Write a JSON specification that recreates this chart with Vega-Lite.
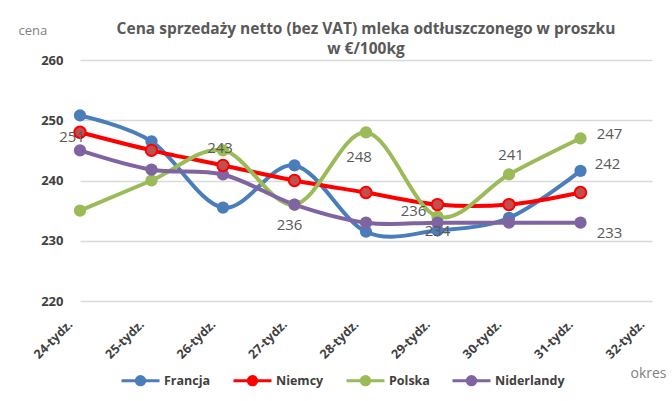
{
  "$schema": "https://vega.github.io/schema/vega-lite/v6.json",
  "width": 572,
  "height": 241,
  "autosize": {"type": "none"},
  "padding": {"left": 80, "top": 60, "right": 20, "bottom": 100},
  "background": "white",
  "config": {
    "font": "Open Sans",
    "view": {"stroke": null},
    "axis": {"labelFont": "Open Sans", "titleFont": "Open Sans"},
    "legend": {"labelFont": "Open Sans"},
    "text": {"font": "Open Sans"}
  },
  "title": {
    "text": ["Cena sprzedaży netto (bez VAT) mleka odtłuszczonego w proszku", "w €/100kg"],
    "font": "Open Sans",
    "fontSize": 15.5,
    "fontWeight": "bold",
    "color": "#595959",
    "anchor": "middle",
    "lineHeight": 20,
    "offset": 8,
    "dy": 41
  },
  "data": {
    "values": [
      {"week": "24-tydz.", "series": "Francja", "value": 250.8, "label": "251"},
      {"week": "25-tydz.", "series": "Francja", "value": 246.5},
      {"week": "26-tydz.", "series": "Francja", "value": 235.5},
      {"week": "27-tydz.", "series": "Francja", "value": 242.5},
      {"week": "28-tydz.", "series": "Francja", "value": 231.5},
      {"week": "29-tydz.", "series": "Francja", "value": 231.7},
      {"week": "30-tydz.", "series": "Francja", "value": 233.8},
      {"week": "31-tydz.", "series": "Francja", "value": 241.6, "label": "242"},
      {"week": "24-tydz.", "series": "Niemcy", "value": 248},
      {"week": "25-tydz.", "series": "Niemcy", "value": 245},
      {"week": "26-tydz.", "series": "Niemcy", "value": 242.5},
      {"week": "27-tydz.", "series": "Niemcy", "value": 240},
      {"week": "28-tydz.", "series": "Niemcy", "value": 238},
      {"week": "29-tydz.", "series": "Niemcy", "value": 236, "label": "236"},
      {"week": "30-tydz.", "series": "Niemcy", "value": 236},
      {"week": "31-tydz.", "series": "Niemcy", "value": 238},
      {"week": "24-tydz.", "series": "Polska", "value": 235},
      {"week": "25-tydz.", "series": "Polska", "value": 240},
      {"week": "26-tydz.", "series": "Polska", "value": 245, "label": "243"},
      {"week": "27-tydz.", "series": "Polska", "value": 236, "label": "236"},
      {"week": "28-tydz.", "series": "Polska", "value": 248, "label": "248"},
      {"week": "29-tydz.", "series": "Polska", "value": 234, "label": "234"},
      {"week": "30-tydz.", "series": "Polska", "value": 241, "label": "241"},
      {"week": "31-tydz.", "series": "Polska", "value": 247, "label": "247"},
      {"week": "24-tydz.", "series": "Niderlandy", "value": 245},
      {"week": "25-tydz.", "series": "Niderlandy", "value": 241.8},
      {"week": "26-tydz.", "series": "Niderlandy", "value": 241},
      {"week": "27-tydz.", "series": "Niderlandy", "value": 236},
      {"week": "28-tydz.", "series": "Niderlandy", "value": 233},
      {"week": "29-tydz.", "series": "Niderlandy", "value": 233},
      {"week": "30-tydz.", "series": "Niderlandy", "value": 233},
      {"week": "31-tydz.", "series": "Niderlandy", "value": 233, "label": "233"}
    ]
  },
  "encoding": {
    "x": {
      "field": "week",
      "type": "ordinal",
      "scale": {
        "type": "point",
        "padding": 0,
        "domain": ["24-tydz.", "25-tydz.", "26-tydz.", "27-tydz.", "28-tydz.", "29-tydz.", "30-tydz.", "31-tydz.", "32-tydz."]
      },
      "axis": {
        "title": "okres",
        "titleX": 550,
        "titleY": 72,
        "titleAlign": "left",
        "titleBaseline": "middle",
        "titleFontSize": 14,
        "titleFontWeight": "normal",
        "titleColor": "#7f7f7f",
        "labelAngle": -45,
        "labelAlign": "right",
        "labelBaseline": "middle",
        "labelFontSize": 12.5,
        "labelFontWeight": "bold",
        "labelColor": "#404040",
        "labelPadding": 21,
        "labelOffset": -10,
        "ticks": false,
        "domain": false,
        "grid": false
      }
    },
    "y": {
      "field": "value",
      "type": "quantitative",
      "scale": {"domain": [220, 260], "nice": false, "zero": false},
      "axis": {
        "values": [220, 230, 240, 250, 260],
        "title": "cena",
        "titleAngle": 0,
        "titleX": -62,
        "titleY": -30,
        "titleAlign": "left",
        "titleBaseline": "middle",
        "titleFontSize": 13,
        "titleFontWeight": "normal",
        "titleColor": "#7f7f7f",
        "labelFontSize": 13,
        "labelFontWeight": "bold",
        "labelColor": "#404040",
        "labelPadding": 17,
        "ticks": false,
        "domain": false,
        "grid": true,
        "gridColor": "#d9d9d9",
        "gridWidth": 1.5
      }
    },
    "color": {
      "field": "series",
      "type": "nominal",
      "scale": {
        "domain": ["Francja", "Niemcy", "Polska", "Niderlandy"],
        "range": ["#4a7ebb", "#ff0000", "#9bbb59", "#8064a2"]
      },
      "legend": {
        "title": null,
        "orient": "none",
        "direction": "horizontal",
        "legendX": 40,
        "legendY": 300,
        "labelFontSize": 12.5,
        "labelFontWeight": "bold",
        "labelColor": "#404040",
        "columnPadding": 16,
        "symbolType": "M-1,0H1M-0.22,0A0.22,0.22,0,1,0,0.22,0A0.22,0.22,0,1,0,-0.22,0Z",
        "symbolSize": 1444,
        "symbolStrokeWidth": 3,
        "labelOffset": 3
      }
    }
  },
  "layer": [
    {
      "mark": {"type": "line", "interpolate": "cardinal", "strokeWidth": 4}
    },
    {
      "mark": {"type": "point", "filled": true, "size": 150, "opacity": 1}
    },
    {
      "transform": [{"filter": "datum.series == 'Niemcy'"}],
      "mark": {"type": "point", "filled": true, "size": 130, "opacity": 1, "fill": "#c0504d", "stroke": "#ff0000", "strokeWidth": 2},
      "encoding": {"color": {"value": "#c0504d"}}
    },
    {
      "transform": [{"filter": "datum.series == 'Francja' && datum.week == '24-tydz.'"}],
      "mark": {"type": "text", "dx": -8, "dy": 22, "fontSize": 15},
      "encoding": {"text": {"field": "label"}, "color": {"value": "#595959"}}
    },
    {
      "transform": [{"filter": "datum.series == 'Polska' && datum.week == '26-tydz.'"}],
      "mark": {"type": "text", "dx": -3, "dy": -2, "fontSize": 15},
      "encoding": {"text": {"field": "label"}, "color": {"value": "#595959"}}
    },
    {
      "transform": [{"filter": "datum.series == 'Polska' && datum.week == '27-tydz.'"}],
      "mark": {"type": "text", "dx": -5, "dy": 20, "fontSize": 15},
      "encoding": {"text": {"field": "label"}, "color": {"value": "#595959"}}
    },
    {
      "transform": [{"filter": "datum.series == 'Polska' && datum.week == '28-tydz.'"}],
      "mark": {"type": "text", "dx": -7, "dy": 25, "fontSize": 15},
      "encoding": {"text": {"field": "label"}, "color": {"value": "#595959"}}
    },
    {
      "transform": [{"filter": "datum.series == 'Niemcy' && datum.week == '29-tydz.'"}],
      "mark": {"type": "text", "dx": -24, "dy": 6, "fontSize": 15},
      "encoding": {"text": {"field": "label"}, "color": {"value": "#595959"}}
    },
    {
      "transform": [{"filter": "datum.series == 'Polska' && datum.week == '29-tydz.'"}],
      "mark": {"type": "text", "dx": 0, "dy": 14, "fontSize": 15},
      "encoding": {"text": {"field": "label"}, "color": {"value": "#595959"}}
    },
    {
      "transform": [{"filter": "datum.series == 'Polska' && datum.week == '30-tydz.'"}],
      "mark": {"type": "text", "dx": 2, "dy": -19, "fontSize": 15},
      "encoding": {"text": {"field": "label"}, "color": {"value": "#595959"}}
    },
    {
      "transform": [{"filter": "datum.series == 'Polska' && datum.week == '31-tydz.'"}],
      "mark": {"type": "text", "dx": 29, "dy": -4, "fontSize": 15},
      "encoding": {"text": {"field": "label"}, "color": {"value": "#595959"}}
    },
    {
      "transform": [{"filter": "datum.series == 'Francja' && datum.week == '31-tydz.'"}],
      "mark": {"type": "text", "dx": 27, "dy": -7, "fontSize": 15},
      "encoding": {"text": {"field": "label"}, "color": {"value": "#595959"}}
    },
    {
      "transform": [{"filter": "datum.series == 'Niderlandy' && datum.week == '31-tydz.'"}],
      "mark": {"type": "text", "dx": 29, "dy": 10, "fontSize": 15},
      "encoding": {"text": {"field": "label"}, "color": {"value": "#595959"}}
    }
  ]
}
